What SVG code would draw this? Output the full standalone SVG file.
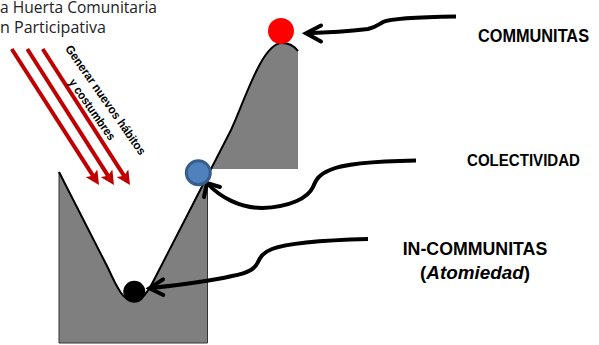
<svg xmlns="http://www.w3.org/2000/svg" width="599" height="345" viewBox="0 0 599 345">
<style>
.hill{fill:#7f7f7f}
.curve{fill:none;stroke:#000;stroke-width:2}
.conn{fill:none;stroke:#000;stroke-width:4}
.head{fill:none;stroke:#000;stroke-width:4;stroke-linejoin:miter;stroke-linecap:round}
.red{fill:none;stroke:#c00000;stroke-width:4}
.lbl{font-family:"Liberation Sans",Arial,sans-serif;font-weight:bold;fill:#000}
.title{font-family:"Open Sans","Noto Sans",sans-serif;font-size:16px;fill:#222}
.rot{font-family:"Liberation Sans",Arial,sans-serif;font-weight:bold;font-size:12px;fill:#000}
</style>
<defs>
<marker id="redhead" viewBox="0 0 14 14" refX="4" refY="7" markerWidth="14" markerHeight="14" markerUnits="userSpaceOnUse" orient="auto">
<path d="M0,0 L14,7 L0,14 L3,7 Z" fill="#c00000"/>
</marker>
</defs>
<rect width="599" height="345" fill="#fff"/>

<g id="title">
<text class="title" x="0" y="13" textLength="157" lengthAdjust="spacingAndGlyphs">a Huerta Comunitaria</text>
<text class="title" x="0" y="33" textLength="106" lengthAdjust="spacingAndGlyphs">n Participativa</text>
</g>

<g id="landscape">
<path class="hill" d="M59,172 L108,268 C118,290 124,301 133,301 C142,301 148,292 155,278 L207.5,175.6 L207.5,343 L59,343 Z" stroke="#333" stroke-width="1"/>
<path class="hill" d="M210.5,169 L231,130 C245,100 262,43 282,43 C290,43 295,47 298,51 L298,169 Z"/>
<path class="curve" d="M59,172 L108,268 C118,290 124,301 133,301 C142,301 148,292 155,278 L231,130 C245,100 262,43 282,43 C290,43 295,47 298,51"/>
</g>

<g id="red-arrows">
<line class="red" x1="11.7" y1="49" x2="93.6" y2="176.6" marker-end="url(#redhead)"/>
<line class="red" x1="27.3" y1="49" x2="108.6" y2="176.6" marker-end="url(#redhead)"/>
<line class="red" x1="42.7" y1="49" x2="124.6" y2="176.6" marker-end="url(#redhead)"/>
</g>

<g id="habits-label" transform="translate(102.4,102.4) rotate(55)">
<text class="rot" x="0" y="0" text-anchor="middle" textLength="131" lengthAdjust="spacingAndGlyphs">Generar  nuevos  hábitos</text>
<text class="rot" x="0" y="16.5" text-anchor="middle" textLength="72" lengthAdjust="spacingAndGlyphs">y costumbres</text>
</g>

<g id="connectors">
<path class="conn" d="M456,16.5 C420,17 392,18 383,22 C378,25 376,27 368,29 C350,31 330,32.5 307,33.3"/>
<polyline class="head" points="321,25.5 306,33.3 321,41.5"/>
<path class="conn" d="M416,160.5 C385,161 345,163 330,170 C318,175 316,180 313,187 C308,198 290,207 262,208 C240,208 220,197 208,184"/>
<polyline class="head" points="204,197 207,183 220,187"/>
<path class="conn" d="M368,239 C330,240 290,242 272,249 C262,253 260,258 258,262 C255,269 248,273 232,276 C210,281 180,285 151,288"/>
<polyline class="head" points="163,279.3 149.5,288.3 163.3,295"/>
</g>

<g id="communitas-node">
<circle cx="281" cy="31" r="13" fill="#ff0000"/>
<text class="lbl" x="478" y="42.3" font-size="18" textLength="111" lengthAdjust="spacingAndGlyphs">COMMUNITAS</text>
</g>

<g id="colectividad-node">
<circle cx="198.3" cy="172.7" r="12" fill="#4f81bd" stroke="#385d8a" stroke-width="3"/>
<text class="lbl" x="467" y="166" font-size="16.5" textLength="113" lengthAdjust="spacingAndGlyphs">COLECTIVIDAD</text>
</g>

<g id="incommunitas-node">
<circle cx="134.3" cy="291.7" r="11" fill="#000"/>
<text class="lbl" x="402.7" y="255" font-size="18" textLength="144.6" lengthAdjust="spacingAndGlyphs">IN-COMMUNITAS</text>
<text class="lbl" x="420" y="279.3" font-size="18" textLength="110" lengthAdjust="spacingAndGlyphs">(<tspan font-style="italic">Atomiedad</tspan>)</text>
</g>
</svg>
